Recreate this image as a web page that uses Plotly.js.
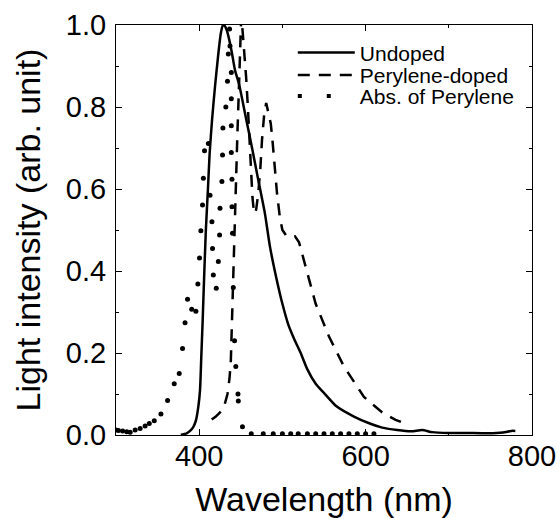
<!DOCTYPE html>
<html>
<head>
<meta charset="utf-8">
<script src="https://cdn.plot.ly/plotly-3.0.1.min.js"></script>
<style>html,body{margin:0;padding:0;background:#fff;}#chart{width:560px;height:518px;}</style>
</head>
<body>
<div id="chart"></div>
<script>
// Undoped emission (solid)
const undopedX = [378,381,385,389,393,396,399,401,402.5,404,405.5,408,410.5,412.5,415.5,419,423,426,428.5,431,433.5,436,439.5,443,448,456,464,471,479,485,492.5,500,507,514,522,530,540,552,565,586,605,620,638,655,668,680,700,720,747,765,775,780];
const undopedY = [0,0.002,0.004,0.01,0.02,0.035,0.07,0.11,0.19,0.27,0.36,0.5,0.6,0.685,0.77,0.85,0.93,0.98,1.0,0.997,0.985,0.965,0.93,0.89,0.855,0.775,0.695,0.622,0.54,0.46,0.385,0.32,0.27,0.235,0.2,0.16,0.125,0.098,0.07,0.045,0.028,0.018,0.012,0.009,0.012,0.007,0.005,0.005,0.004,0.006,0.01,0.01];

// Perylene-doped emission (dashed)
const dopedX = [415,420,425,430,434,436.5,438,439,440,440.8,441.5,442.3,443.3,444.5,446,447.5,448.5,449.5,450.5,452,454,456.5,458.5,460.5,462,464,466,468.5,471,473.5,475.5,478,480.5,483,486,488,490.5,493.5,497,500,505,510,515,520,525,530,540,556,574,598,620,636,646];
const dopedY = [0.038,0.045,0.055,0.07,0.1,0.14,0.18,0.25,0.33,0.4,0.47,0.54,0.6,0.66,0.74,0.83,0.92,1.0,1.02,0.99,0.94,0.87,0.8,0.72,0.64,0.58,0.54,0.55,0.59,0.65,0.72,0.78,0.81,0.79,0.76,0.72,0.66,0.59,0.53,0.5,0.485,0.485,0.485,0.47,0.43,0.395,0.32,0.24,0.167,0.093,0.055,0.037,0.029];

// Absorption of perylene (dots)
const absX = [300,303,308,313,317,323,329,335,340,346,354,362,370,376,380,383,386,391,396,398.4,400.4,402,404,405,406.4,411,413,415.3,416,417,420.5,423,424.5,425,427.3,428,428.5,432,434,435,436.5,437,438.6,438.6,438.6,438.6,439.4,439.4,440,441,442.5,444,446.6,447,452,462.6,477,489,500,510,519,530,540,550,560,570,580,590,600,610];
const absY = [0.012,0.011,0.01,0.008,0.007,0.012,0.016,0.022,0.028,0.035,0.051,0.084,0.125,0.15,0.211,0.274,0.331,0.307,0.302,0.368,0.432,0.498,0.561,0.626,0.693,0.711,0.585,0.52,0.455,0.39,0.358,0.423,0.488,0.553,0.618,0.683,0.749,0.80,0.863,0.929,0.99,0.949,0.884,0.82,0.754,0.689,0.624,0.557,0.492,0.36,0.23,0.167,0.10,0.083,0.02,0.003,0.003,0.003,0.003,0.003,0.003,0.003,0.003,0.003,0.003,0.003,0.003,0.003,0.003,0.003];

const seriesNames = ["Undoped", "Perylene-doped", "Abs. of Perylene"];
const xTitle = "Wavelength (nm)";
const yTitle = "Light intensity (arb. unit)";

const FONT = "Liberation Sans, Arial, Helvetica, sans-serif";

const traces = [
  {x: undopedX, y: undopedY, mode: "lines", name: seriesNames[0], legend: "legend",
   line: {color: "#000", width: 2.5, shape: "spline", smoothing: 0.6}},
  {x: dopedX, y: dopedY, mode: "lines", name: seriesNames[1], legend: "legend2",
   line: {color: "#000", width: 2.5, dash: "12px,9px"}},
  {x: absX, y: absY, mode: "markers", name: seriesNames[2], showlegend: false,
   marker: {color: "#000", size: 5}},
  {x: [null], y: [null], mode: "lines", name: seriesNames[2], legend: "legend3",
   line: {color: "#000", width: 4, dash: "4px,25px"}}
];

const legendCommon = {
  font: {family: FONT, size: 21, color: "#000"},
  bgcolor: "rgba(0,0,0,0)", borderwidth: 0,
  xanchor: "left", yanchor: "middle", itemwidth: 57
};

const axisCommon = {
  showgrid: false, zeroline: false, showline: true, linecolor: "#000", linewidth: 1,
  mirror: "ticks", ticks: "inside", ticklen: 6, tickwidth: 1, tickcolor: "#000",
  tickfont: {family: FONT, size: 29, color: "#000"}
};

const layout = {
  width: 560, height: 518,
  margin: {l: 116, r: 28, t: 25, b: 83},
  paper_bgcolor: "#fff", plot_bgcolor: "#fff",
  showlegend: true,
  xaxis: Object.assign({}, axisCommon, {
    range: [300, 800], tick0: 400, dtick: 200, ticklabelstandoff: -5,
    minor: {dtick: 100, tick0: 300, ticks: "inside", ticklen: 3, tickcolor: "#000"},
    title: {text: xTitle, font: {family: FONT, size: 34, color: "#000"}, standoff: 24}
  }),
  yaxis: Object.assign({}, axisCommon, {
    range: [0, 1], dtick: 0.2, tickformat: ".1f", ticklabelstandoff: 3,
    minor: {dtick: 0.1, ticks: "inside", ticklen: 3, tickcolor: "#000"},
    title: {text: yTitle, font: {family: FONT, size: 34, color: "#000"}, standoff: 14}
  }),
  legend: Object.assign({}, legendCommon, {x: 0.425, y: 0.932}),
  legend2: Object.assign({}, legendCommon, {x: 0.425, y: 0.877}),
  legend3: Object.assign({}, legendCommon, {x: 0.425, y: 0.826})
};

Plotly.newPlot("chart", traces, layout, {staticPlot: true, displayModeBar: false});
</script>
</body>
</html>
